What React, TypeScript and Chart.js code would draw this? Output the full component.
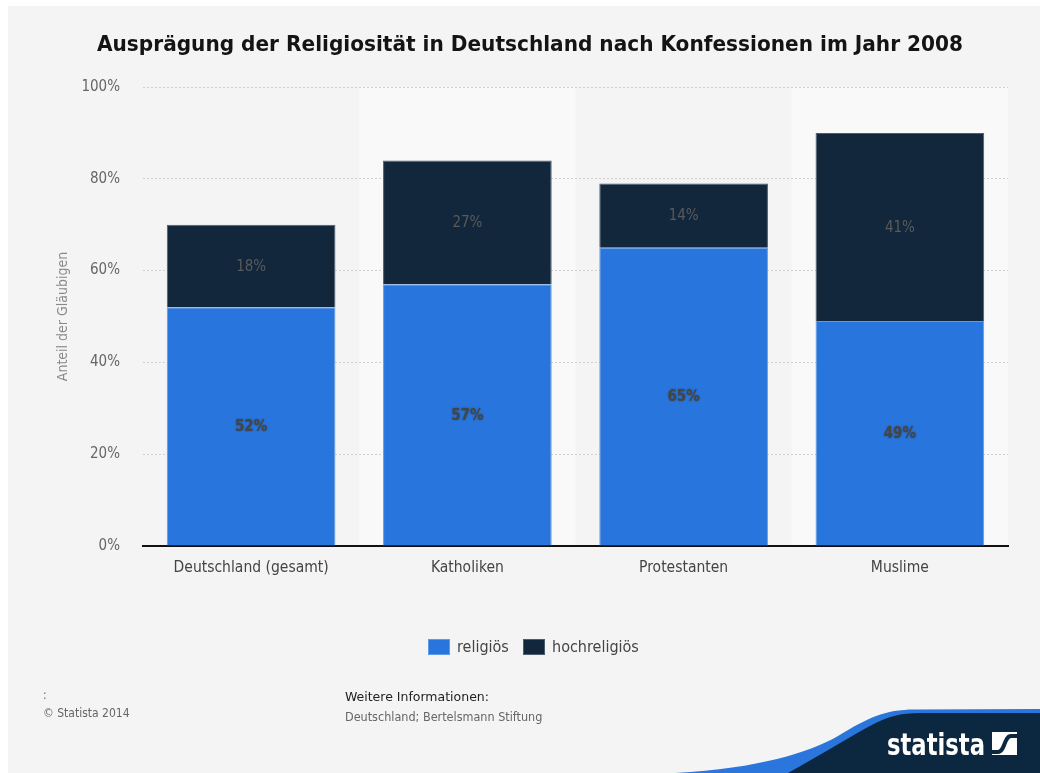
import React, { useEffect, useRef } from 'react';
import { Chart, registerables } from 'chart.js';

Chart.register(...registerables);

const categories = ['Deutschland (gesamt)', 'Katholiken', 'Protestanten', 'Muslime'];
const religioes = [52, 57, 65, 49];
const hochreligioes = [18, 27, 14, 41];
const seriesNames = ['religiös', 'hochreligiös'];
const seriesColors = ['#2876dd', '#12263c'];
const seriesBorders = ['#5f9ae6', '#4d5c6c'];
const chartTitle = 'Ausprägung der Religiosität in Deutschland nach Konfessionen im Jahr 2008';
const yAxisTitle = 'Anteil der Gläubigen';
const footerLeft = [':', '© Statista 2014'];
const footerInfoHead = 'Weitere Informationen:';
const footerInfoText = 'Deutschland; Bertelsmann Stiftung';

const FONT = '"DejaVu Sans Condensed", "DejaVu Sans", sans-serif';

function fitText(ctx: any, text: string, x: number, y: number, width: number) {
  const w = ctx.measureText(text).width;
  ctx.save();
  ctx.translate(x, y);
  ctx.scale(width / w, 1);
  ctx.fillText(text, 0, 0);
  ctx.restore();
}

const decorPlugin = {
  id: 'decor',
  beforeDraw(chart: any) {
    const { ctx, chartArea, scales } = chart;
    ctx.save();
    ctx.fillStyle = '#ffffff';
    ctx.fillRect(0, 0, chart.width, chart.height);
    ctx.fillStyle = '#f4f4f4';
    ctx.fillRect(8, 6, chart.width - 8, chart.height - 6);
    const x = scales.x;
    const half = (chartArea.right - chartArea.left) / categories.length / 2;
    ctx.fillStyle = '#f9f9f9';
    categories.forEach((_, i) => {
      if (i % 2 === 1) {
        const cx = x.getPixelForValue(i);
        ctx.fillRect(cx - half, chartArea.top, half * 2, chartArea.bottom - chartArea.top);
      }
    });
    ctx.restore();
  },
  afterDatasetsDraw(chart: any) {
    const { ctx } = chart;
    ctx.save();
    ctx.textAlign = 'center';
    ctx.textBaseline = 'middle';
    chart.data.datasets.forEach((ds: any, di: number) => {
      const meta = chart.getDatasetMeta(di);
      meta.data.forEach((el: any, i: number) => {
        const v = ds.data[i];
        const cy = (el.y + el.base) / 2 + 1;
        if (di === 0) {
          ctx.font = `bold 15px ${FONT}`;
          ctx.fillStyle = '#454545';
          ctx.shadowColor = 'rgba(40,40,40,0.6)';
          ctx.shadowBlur = 2;
        } else {
          ctx.font = `15px ${FONT}`;
          ctx.fillStyle = '#5a5a5a';
          ctx.shadowBlur = 0;
          ctx.shadowColor = 'transparent';
        }
        ctx.fillText(`${v}%`, el.x, cy);
      });
    });
    ctx.restore();
  },
  afterDraw(chart: any) {
    const { ctx } = chart;
    ctx.save();
    // title
    ctx.fillStyle = '#141414';
    ctx.font = `bold 21px ${FONT}`;
    ctx.textAlign = 'left';
    ctx.textBaseline = 'middle';
    fitText(ctx, chartTitle, 97, 46, 866);

    // legend
    ctx.font = `16px ${FONT}`;
    const legendX = [428, 523];
    seriesNames.forEach((name, i) => {
      ctx.fillStyle = seriesColors[i];
      ctx.fillRect(legendX[i], 639, 22, 16);
      ctx.strokeStyle = seriesBorders[i];
      ctx.lineWidth = 1;
      ctx.strokeRect(legendX[i] + 0.5, 639.5, 21, 15);
      ctx.fillStyle = '#444444';
      ctx.fillText(name, legendX[i] + 29, 648);
    });

    // footer
    ctx.font = `12px ${FONT}`;
    ctx.fillStyle = '#666666';
    ctx.fillText(footerLeft[0], 43, 696);
    ctx.fillText(footerLeft[1], 43, 714);
    ctx.fillStyle = '#222222';
    ctx.font = `13px ${FONT}`;
    fitText(ctx, footerInfoHead, 345, 698, 144);
    ctx.fillStyle = '#666666';
    ctx.font = `12.5px ${FONT}`;
    ctx.fillText(footerInfoText, 345, 718);

    // logo swoosh
    ctx.fillStyle = '#2a76dc';
    ctx.beginPath();
    ctx.moveTo(675, 773);
    ctx.bezierCurveTo(760, 768, 808, 753, 838, 736);
    ctx.bezierCurveTo(868, 718, 884, 709.5, 915, 709.5);
    ctx.lineTo(1040, 709);
    ctx.lineTo(1040, 773);
    ctx.closePath();
    ctx.fill();
    ctx.fillStyle = '#0c2840';
    ctx.beginPath();
    ctx.moveTo(788, 773);
    ctx.bezierCurveTo(815, 758, 845, 740, 868, 727);
    ctx.bezierCurveTo(888, 716, 900, 713, 920, 713);
    ctx.lineTo(1040, 713);
    ctx.lineTo(1040, 773);
    ctx.closePath();
    ctx.fill();

    // logo text
    ctx.fillStyle = '#ffffff';
    ctx.font = `bold 30px ${FONT}`;
    ctx.textBaseline = 'alphabetic';
    fitText(ctx, 'statista', 887, 755, 98);

    // logo icon
    ctx.fillStyle = '#ffffff';
    ctx.fillRect(992, 732, 25, 23);
    ctx.strokeStyle = '#0c2840';
    ctx.lineWidth = 4;
    ctx.beginPath();
    ctx.moveTo(990, 752);
    ctx.lineTo(998, 752);
    ctx.bezierCurveTo(1005, 752, 1004, 736, 1011, 736);
    ctx.lineTo(1019, 736);
    ctx.stroke();
    ctx.restore();
  },
};

export default function App() {
  const canvasRef = useRef<HTMLCanvasElement | null>(null);

  useEffect(() => {
    if (!canvasRef.current) return;
    const chart = new Chart(canvasRef.current, {
      type: 'bar',
      data: {
        labels: categories,
        datasets: [
          {
            label: seriesNames[0],
            data: religioes,
            backgroundColor: seriesColors[0],
            borderColor: seriesBorders[0],
            borderWidth: 1,
          },
          {
            label: seriesNames[1],
            data: hochreligioes,
            backgroundColor: seriesColors[1],
            borderColor: seriesBorders[1],
            borderWidth: 1,
          },
        ],
      },
      options: {
        responsive: false,
        animation: false,
        devicePixelRatio: 1,
        layout: { padding: { left: 0, top: 87, right: 32, bottom: 773 - 546 - 40 } },
        plugins: {
          legend: { display: false },
          title: { display: false },
          tooltip: { enabled: false },
        },
        datasets: {
          bar: { categoryPercentage: 1, barPercentage: 0.78 },
        },
        scales: {
          x: {
            stacked: true,
            grid: { display: false, drawTicks: false },
            border: { display: true, color: '#111111', width: 2 },
            ticks: {
              color: '#444444',
              font: { family: FONT, size: 15.5 },
              padding: 13,
              maxRotation: 0,
            },
            afterFit: (s: any) => {
              s.height = 40;
            },
          },
          y: {
            stacked: true,
            min: 0,
            max: 100,
            grid: { color: '#cfcfcf', drawTicks: false, lineWidth: 1 },
            border: { display: false, dash: [2, 2] },
            ticks: {
              stepSize: 20,
              color: '#666666',
              font: { family: FONT, size: 15 },
              padding: 23,
              callback: (v: any) => `${v}%`,
            },
            title: {
              display: true,
              text: yAxisTitle,
              color: '#888888',
              font: { family: FONT, size: 14 },
              padding: { top: 55, bottom: 0 },
            },
            afterFit: (s: any) => {
              s.width = 143;
            },
          },
        },
      },
      plugins: [decorPlugin],
    });
    return () => chart.destroy();
  }, []);

  return (
    <div style={{ position: 'fixed', left: 0, top: 0, width: 1040, height: 773 }}>
      <canvas ref={canvasRef} width={1040} height={773} style={{ display: 'block' }} />
    </div>
  );
}
